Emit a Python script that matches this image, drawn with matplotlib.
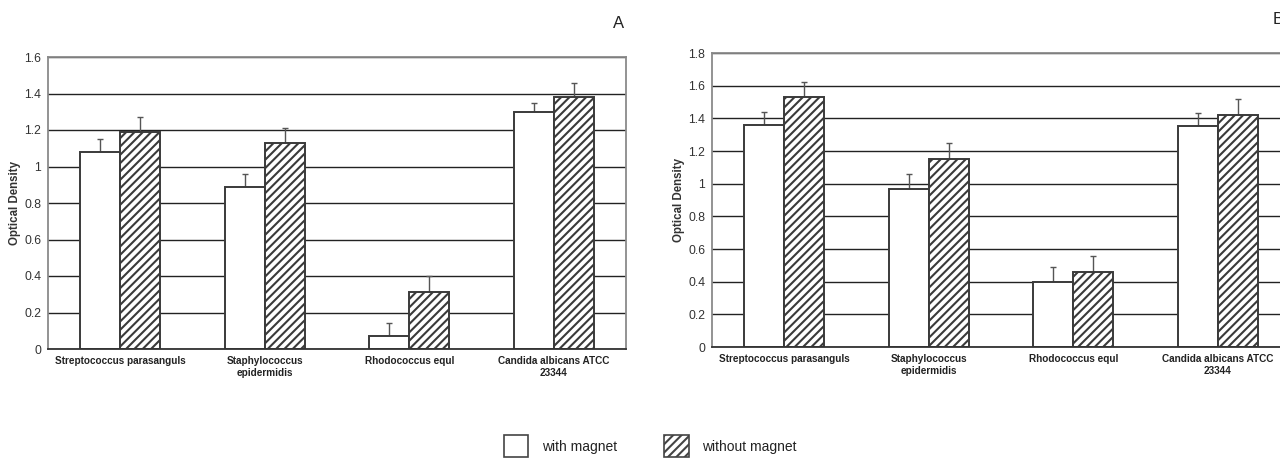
import matplotlib
matplotlib.use("Agg")
import matplotlib.pyplot as plt
from matplotlib.patches import Rectangle
import numpy as np

plt.rcParams['font.family'] = ['Liberation Sans', 'DejaVu Sans']
plt.rcParams['hatch.linewidth'] = 1.5
plt.rcParams['hatch.color'] = '#111111'

categories = ["Streptococcus parasanguls", "Staphylococcus\nepidermidis",
              "Rhodococcus equl", "Candida albicans ATCC\n23344"]

# Panel A
a_with = [1.08, 0.89, 0.07, 1.30]
a_with_err = [0.07, 0.07, 0.07, 0.05]
a_without = [1.19, 1.13, 0.31, 1.38]
a_without_err = [0.08, 0.08, 0.09, 0.08]
a_ticks = [0, 0.2, 0.4, 0.6, 0.8, 1, 1.2, 1.4, 1.6]
a_ticklabels = ["0", "0.2", "0.4", "0.6", "0.8", "1", "1.2", "1.4", "1.6"]

# Panel B
b_with = [1.36, 0.97, 0.40, 1.35]
b_with_err = [0.08, 0.09, 0.09, 0.08]
b_without = [1.53, 1.15, 0.46, 1.42]
b_without_err = [0.09, 0.10, 0.10, 0.10]
b_ticks = [0, 0.2, 0.4, 0.6, 0.8, 1, 1.2, 1.4, 1.6, 1.8]
b_ticklabels = ["0", "0.2", "0.4", "0.6", "0.8", "1", "1.2", "1.4", "1.6", "1.8"]

legend_labels = ["with magnet", "without magnet"]

W, H = 1280, 458
fig = plt.figure(figsize=(12.8, 4.58), dpi=100)

def fpos(x0, x1, ytop, ybot):
    return [x0 / W, (H - ybot) / H, (x1 - x0) / W, (ybot - ytop) / H]

ax_a = fig.add_axes(fpos(48, 626, 57, 349))
ax_b = fig.add_axes(fpos(712, 1290, 53, 347))

edge = '#3a3a3a'
bw = 0.278

def draw(ax, w, we, wo, woe, ticks, ticklabels, ymax):
    x = np.arange(len(categories))
    ax.set_axisbelow(True)
    ax.yaxis.grid(True, color='#222222', linewidth=1.0)
    ax.bar(x - bw / 2, w, bw, color='white', edgecolor=edge, linewidth=1.4, zorder=2)
    ax.bar(x + bw / 2, wo, bw, color='white', edgecolor=edge, linewidth=1.4,
           hatch='////', zorder=2)
    ax.errorbar(x - bw / 2, w, yerr=[np.zeros(len(w)), we], fmt='none',
                ecolor='#555555', elinewidth=1.0, capsize=2.5, capthick=1.0, zorder=1)
    ax.errorbar(x + bw / 2, wo, yerr=[np.zeros(len(wo)), woe], fmt='none',
                ecolor='#555555', elinewidth=1.0, capsize=2.5, capthick=1.0, zorder=1)
    ax.set_xlim(-0.5, len(categories) - 0.5)
    ax.set_ylim(0, ymax)
    ax.set_yticks(ticks)
    ax.set_yticklabels(ticklabels)
    ax.set_xticks(x)
    ax.set_xticklabels(categories, fontsize=7.2, fontweight='bold', color='#222222',
                       linespacing=1.25)
    ax.tick_params(axis='both', length=0, pad=5)
    ax.tick_params(axis='y', labelsize=8.8, labelcolor='#333333')
    for s in ax.spines.values():
        s.set_color('#8a8a8a')
        s.set_linewidth(1.3)
    ax.spines['bottom'].set_color('#333333')
    ax.set_ylabel("Optical Density", fontsize=8.3, fontweight='bold', color='#333333',
                  labelpad=2)

draw(ax_a, a_with, a_with_err, a_without, a_without_err, a_ticks, a_ticklabels, 1.6)
draw(ax_b, b_with, b_with_err, b_without, b_without_err, b_ticks, b_ticklabels, 1.8)

fig.text(624 / W, 1 - 23 / H, "A", fontsize=12, ha='right', va='center', color='#222222')
fig.text(1273 / W, 1 - 20 / H, "B", fontsize=12, ha='left', va='center', color='#222222')

handles = [Rectangle((0, 0), 1, 1, facecolor='white', edgecolor='#444444', linewidth=1.2),
           Rectangle((0, 0), 1, 1, facecolor='white', edgecolor='#444444', linewidth=1.2,
                     hatch='////')]
fig.legend(handles, legend_labels, loc='lower left', bbox_to_anchor=(503 / W, 0.0),
           ncol=2, frameon=False, fontsize=10, handlelength=1.75, handleheight=2.1,
           handletextpad=1.0, columnspacing=3.4, borderpad=0.05, borderaxespad=0,
           labelcolor='#222222')

fig.savefig("out.png", dpi=100)
